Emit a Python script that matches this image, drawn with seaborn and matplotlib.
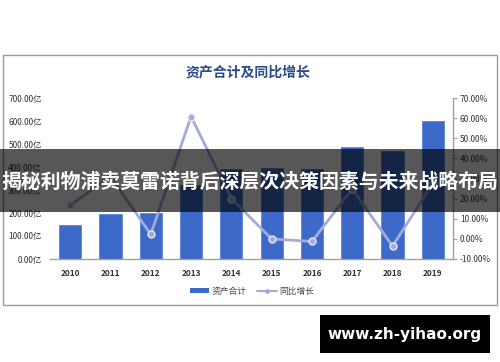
import matplotlib
matplotlib.use("Agg")
import matplotlib.pyplot as plt
import seaborn as sns
import pandas as pd
from matplotlib.patches import Rectangle, Patch
from matplotlib.lines import Line2D
from matplotlib.ticker import FuncFormatter

years = ["2010", "2011", "2012", "2013", "2014", "2015", "2016", "2017", "2018", "2019"]
assets = [148, 194, 199, 320, 390, 396, 391, 488, 471, 601]
growth = [16.6, 31.0, 2.3, 60.8, 20.0, 0.0, -1.3, 24.8, -3.6, 27.6]
left_ticks = [0, 100, 200, 300, 400, 500, 600, 700]
right_ticks = [-10, 0, 10, 20, 30, 40, 50, 60, 70]
title_text = "资产合计及同比增长"
legend_labels = ["资产合计", "同比增长"]
banner_text = "揭秘利物浦卖莫雷诺背后深层次决策因素与未来战略布局"
watermark = "www.zh-yihao.org"

sns.set_theme(style="white")
plt.rcParams['font.family'] = ['Noto Sans CJK SC', 'DejaVu Sans']

df = pd.DataFrame({"year": years, "assets": assets, "growth": growth})

fig = plt.figure(figsize=(5, 3.62), dpi=100)
fig.patch.set_facecolor("white")

# chart frame
fig.patches.append(Rectangle((3/500, 1-305/362), 494/500, 250/362, transform=fig.transFigure,
                             fill=False, edgecolor="#9a9a9a", linewidth=1.0, zorder=0))

ax = fig.add_axes([50/500, 1-259/362, 403/500, 161/362])
sns.barplot(data=df, x="year", y="assets", ax=ax, color="#3d69c8", width=0.55,
            saturation=1, edgecolor="#5a85d8", linewidth=0.6)
ax.set_ylim(0, 700)
ax.set_yticks(left_ticks)
ax.yaxis.set_major_formatter(FuncFormatter(lambda v, p: f"{v:.2f}亿"))
ax.set_xlabel("")
ax.set_ylabel("")
for s in ["top", "right", "left"]:
    ax.spines[s].set_visible(False)
ax.spines["bottom"].set_color("#a0a0a0")
ax.spines["bottom"].set_linewidth(1.0)
ax.tick_params(axis="y", length=0, pad=6, labelsize=6, labelcolor="#333333")
ax.tick_params(axis="x", length=0, pad=7, labelsize=6, labelcolor="#333333")
for t in ax.get_xticklabels():
    t.set_fontweight("bold")
ax.set_xlim(-0.5, 9.5)

ax2 = ax.twinx()
sns.pointplot(data=df, x="year", y="growth", ax=ax2, color="#a2acdc",
              markers="o", linewidth=2.0, markersize=5,
              markeredgecolor="#e8ebf7", markeredgewidth=1.0)
ax2.set_ylim(-10, 70)
ax2.set_yticks(right_ticks)
ax2.yaxis.set_major_formatter(FuncFormatter(lambda v, p: f"{v:.2f}%"))
ax2.set_ylabel("")
ax2.set_xlabel("")
for s in ["top", "left", "bottom"]:
    ax2.spines[s].set_visible(False)
ax2.spines["right"].set_color("#a0a0a0")
ax2.spines["right"].set_linewidth(1.0)
ax2.tick_params(axis="y", length=3, width=0.8, color="#a0a0a0", pad=2,
                labelsize=6, labelcolor="#333333", direction="out")
ax2.set_xlim(-0.5, 9.5)

fig.text(248/500, 1-73/362, title_text, ha="center", va="center", fontsize=10,
         fontweight="bold", color="#2b4a8c")

handles = [Patch(facecolor="#3d69c8", edgecolor="none"),
           Line2D([0], [0], color="#a2acdc", linewidth=1.5, marker="o", markersize=2.5)]
fig.legend(handles, legend_labels, loc="center", bbox_to_anchor=(252/500, 1-291/362),
           ncol=2, frameon=False, fontsize=6.3, handlelength=2.2, handleheight=0.6,
           columnspacing=1.2, handletextpad=0.3, labelcolor="#444444")

# banner
fig.patches.append(Rectangle((0, 1-212/362), 1, 63/362, transform=fig.transFigure,
                             facecolor="black", alpha=0.66, edgecolor="none", zorder=10))
fig.text(0.5, 1-181/362, banner_text, ha="center", va="center", fontsize=14.3,
         fontweight="bold", color="white", zorder=11)

# watermark
fig.patches.append(Rectangle((320/500, 1-353/362), 170/500, 38/362, transform=fig.transFigure,
                             facecolor="black", edgecolor="none", zorder=10))
fig.text(405/500, 1-334/362, watermark, ha="center", va="center", fontsize=11,
         fontweight="bold", color="white", family=["DejaVu Sans"], zorder=11)

fig.savefig("out.png", dpi=100)
